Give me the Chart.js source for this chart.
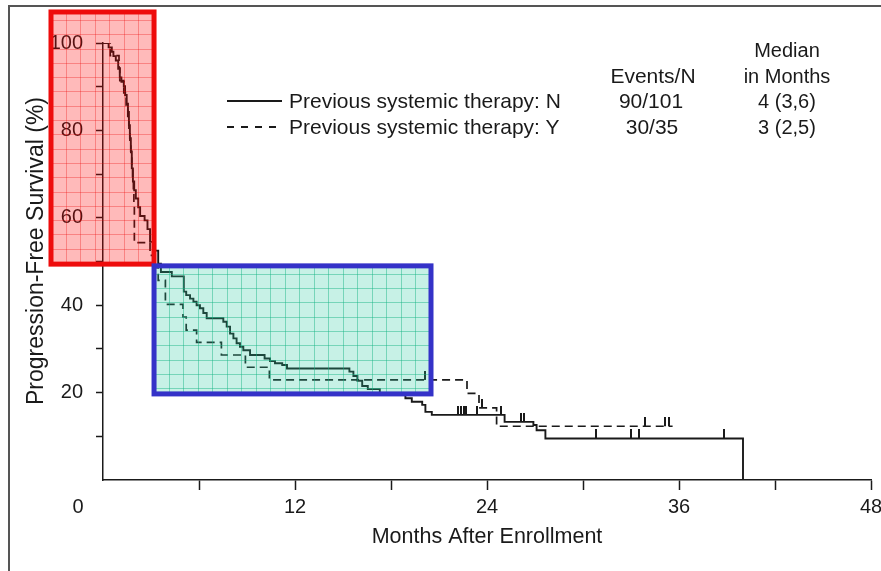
<!DOCTYPE html>
<html lang="en">
<head>
<meta charset="UTF-8">
<title>Progression-Free Survival</title>
<script src="https://cdn.jsdelivr.net/npm/chart.js"></script>
<style>
  body{margin:0;background:#fff;}
  #wrap{position:relative;width:881px;height:571px;font-family:"Liberation Sans",Arial,Helvetica,sans-serif;color:#1a1a1a;}
  #frame{position:absolute;left:8px;top:5px;right:0;bottom:0;border-top:2px solid #555;border-left:2px solid #555;pointer-events:none;}
  .t{position:absolute;font-size:20px;white-space:nowrap;transform:translate(-50%,-50%);}
  .s{position:absolute;font-size:21px;white-space:nowrap;transform:translate(0,-50%);}
  .e{font-size:21px;}
  #ytitle{position:absolute;left:35px;top:251px;font-size:23px;white-space:nowrap;transform:translate(-50%,-50%) rotate(-90deg);}
  #keys{position:absolute;left:0;top:0;}
</style>
</head>
<body>
<div id="wrap">
  <canvas id="pfs" width="881" height="571"></canvas>
  <div id="frame"></div>
  <div id="ytitle">Progression-Free Survival (%)</div>
  <svg id="keys" width="881" height="140">
    <line x1="227" y1="101" x2="282" y2="101" stroke="#1a1a1a" stroke-width="2"/>
    <line x1="227" y1="127" x2="282" y2="127" stroke="#1a1a1a" stroke-width="2" stroke-dasharray="7 7"/>
  </svg>
  <div class="t" style="left:787px;top:50px">Median</div>
  <div class="t e" style="left:653px;top:76px">Events/N</div>
  <div class="t" style="left:787px;top:76px">in Months</div>
  <div class="s" style="left:289px;top:101px">Previous systemic therapy: N</div>
  <div class="t e" style="left:651px;top:101px">90/101</div>
  <div class="t" style="left:787px;top:101px">4 (3,6)</div>
  <div class="s" style="left:289px;top:127px">Previous systemic therapy: Y</div>
  <div class="t e" style="left:652px;top:127px">30/35</div>
  <div class="t" style="left:787px;top:127px">3 (2,5)</div>
</div>
<script>
// axis labels
const xTicks = [0, 12, 24, 36, 48];
const yTicks = [20, 40, 60, 80, 100];

// Previous systemic therapy: N  (step drops, months -> % free of progression)
const nMonths = [0, 0.35, 0.55, 0.65, 0.8, 0.95, 1.05, 1.15, 1.3, 1.38, 1.48, 1.56, 1.62, 1.68, 1.74, 1.8, 1.87, 1.95, 2.05, 2.2, 2.32,
  2.6, 2.78, 2.94, 3.2, 3.45, 3.62, 4.3, 5.05, 5.2, 5.44, 5.65, 5.85, 6.06, 6.27, 6.48, 7.52, 7.73, 7.94, 8.15, 8.35, 8.56, 8.77,
  9.19, 10.1, 10.44, 10.75, 11.2, 11.5, 15.4, 15.65, 15.9, 16.2, 16.55, 17.3, 18.9, 19.3, 19.95, 20.15, 20.55, 25.1, 26.9, 27.1, 27.65, 40.0, 40.0];
const nSurv = [100, 99.0, 98.0, 97.0, 96.0, 94.1, 92.1, 91.1, 90.1, 88.1, 86.1, 84.2, 81.2, 78.2, 75.2, 71.3, 68.3, 66.3, 64.4, 62.4, 60.4,
  59.4, 57.4, 54.5, 52.5, 49.5, 47.6, 46.6, 43.1, 42.3, 41.5, 40.8, 40.0, 39.3, 38.2, 37.0, 36.2, 35.1, 33.5, 32.4, 31.3, 30.5, 29.7,
  28.6, 27.8, 27.2, 26.7, 26.3, 25.5, 24.8, 23.8, 22.7, 21.5, 20.8, 19.8, 18.7, 17.9, 17.2, 15.6, 14.9, 13.3, 12.6, 11.4, 9.5, 9.5, 0];
const nCensor = [22.2, 22.4, 22.55, 22.7, 23.4, 24.9, 26.15, 26.3, 30.8, 33.0, 33.5, 38.8];

// Previous systemic therapy: Y
const yMonths = [0, 0.45, 1.0, 1.05, 1.3, 1.45, 1.55, 1.62, 1.68, 1.74, 1.8, 1.85, 1.9, 1.93, 1.96, 2.94, 3.25, 3.45, 3.9,
  5.0, 5.2, 5.85, 7.4, 8.9, 10.4, 22.75, 23.5, 24.6, 35.6];
const ySurv = [100, 97.1, 94.3, 91.4, 88.6, 85.7, 82.9, 80.0, 77.1, 74.3, 71.4, 68.6, 65.7, 62.9, 54.3, 51.4, 48.6, 45.7, 40.2,
  37.3, 34.3, 31.5, 28.6, 25.8, 22.9, 19.8, 16.5, 12.3, 12.3];
const yCensor = [20.1, 23.7, 33.9, 35.1, 35.4];

// highlighted zones [month from, month to, % low, % high]
const zoneRed = [-3.25, 3.19, 49.4, 107.1];
const zoneBlue = [3.19, 20.5, 19.7, 49.0];

const ink = '#1a1a1a';

function toPoints(ms, vs) {
  return ms.map((m, i) => ({x: m, y: vs[i]}));
}
// value of a step curve at time t
function levelAt(ms, vs, t) {
  let v = vs[0];
  for (let i = 0; i < ms.length; i++) if (ms[i] <= t) v = vs[i];
  return v;
}
function censorPoints(ms, vs, list) {
  return list.map(t => ({x: t, y: levelAt(ms, vs, t)}));
}

// small upright tick sitting on the curve
const tickMark = document.createElement('canvas');
tickMark.width = 2; tickMark.height = 18;
const tg = tickMark.getContext('2d');
tg.fillStyle = ink; tg.fillRect(0, 0, 2, 9);

const zonePlugin = {
  id: 'zones',
  afterDraw(chart) {
    const {ctx, scales: {x, y}} = chart;
    const paint = (z, fill, gridCol, edge) => {
      const l = x.getPixelForValue(z[0]), r = x.getPixelForValue(z[1]);
      const t = y.getPixelForValue(z[3]), b = y.getPixelForValue(z[2]);
      ctx.save();
      ctx.fillStyle = fill;
      ctx.fillRect(l, t, r - l, b - t);
      ctx.strokeStyle = gridCol;
      ctx.lineWidth = 1;
      ctx.beginPath();
      for (let gx = l + 14.5; gx < r; gx += 14.5) { ctx.moveTo(Math.round(gx) + 0.5, t); ctx.lineTo(Math.round(gx) + 0.5, b); }
      for (let gy = t + 8; gy < b; gy += 14.3) { ctx.moveTo(l, Math.round(gy) + 0.5); ctx.lineTo(r, Math.round(gy) + 0.5); }
      ctx.stroke();
      ctx.strokeStyle = edge;
      ctx.lineWidth = 5;
      ctx.strokeRect(l, t, r - l, b - t);
      ctx.restore();
    };
    paint(zoneRed, 'rgba(255,0,0,0.27)', 'rgba(235,0,0,0.3)', 'rgb(238,12,12)');
    paint(zoneBlue, 'rgba(40,200,160,0.26)', 'rgba(20,180,130,0.45)', 'rgb(52,50,200)');
  }
};

Chart.defaults.font.family = '"Liberation Sans", Arial, Helvetica, sans-serif';
Chart.defaults.color = ink;

new Chart(document.getElementById('pfs'), {
  type: 'line',
  data: {
    datasets: [
      {
        label: 'Previous systemic therapy: N',
        data: toPoints(nMonths, nSurv),
        stepped: true, borderColor: ink, borderWidth: 1.9, pointRadius: 0, fill: false
      },
      {
        label: 'Previous systemic therapy: Y',
        data: toPoints(yMonths, ySurv),
        stepped: true, borderColor: ink, borderWidth: 1.7, borderDash: [8, 5], pointRadius: 0, fill: false
      },
      {
        type: 'scatter',
        label: 'censored N',
        data: censorPoints(nMonths, nSurv, nCensor),
        pointStyle: tickMark, pointRadius: 4, showLine: false
      },
      {
        type: 'scatter',
        label: 'censored Y',
        data: censorPoints(yMonths, ySurv, yCensor),
        pointStyle: tickMark, pointRadius: 4, showLine: false
      }
    ]
  },
  options: {
    responsive: false,
    animation: false,
    devicePixelRatio: 1,
    layout: {padding: {top: 43, right: 10, bottom: 0, left: 0}},
    plugins: {legend: {display: false}, tooltip: {enabled: false}},
    scales: {
      x: {
        type: 'linear', min: 0, max: 48,
        afterFit(s) { s.height = 91; s.paddingLeft = 0; s.paddingRight = 0; },
        ticks: {
          stepSize: 6, autoSkip: false, maxRotation: 0, padding: 5,
          font: {size: 20}, color: ink,
          callback: v => v === 0 ? '0' + ' '.repeat(9) : (xTicks.includes(v) ? String(v) : '')
        },
        grid: {
          drawOnChartArea: false, tickLength: 10, tickWidth: 1.5,
          tickColor: c => (c.tick && c.tick.value === 0) ? 'rgba(0,0,0,0)' : ink
        },
        border: {display: true, color: ink, width: 1.5},
        title: {display: true, text: 'Months After Enrollment', font: {size: 21.5}, color: ink, padding: {top: 0, bottom: 21}}
      },
      y: {
        type: 'linear', min: 0, max: 100,
        afterFit(s) { s.width = 103; s.paddingTop = 0; s.paddingBottom = 0; },
        ticks: {
          stepSize: 10, autoSkip: false, padding: 13,
          font: {size: 20}, color: ink,
          callback: v => yTicks.includes(v) ? String(v) : ''
        },
        grid: {
          drawOnChartArea: false, tickLength: 7, tickWidth: 1.5,
          tickColor: c => (c.tick && c.tick.value === 0) ? 'rgba(0,0,0,0)' : ink
        },
        border: {display: true, color: ink, width: 1.5}
      }
    }
  },
  plugins: [zonePlugin]
});
</script>
</body>
</html>
